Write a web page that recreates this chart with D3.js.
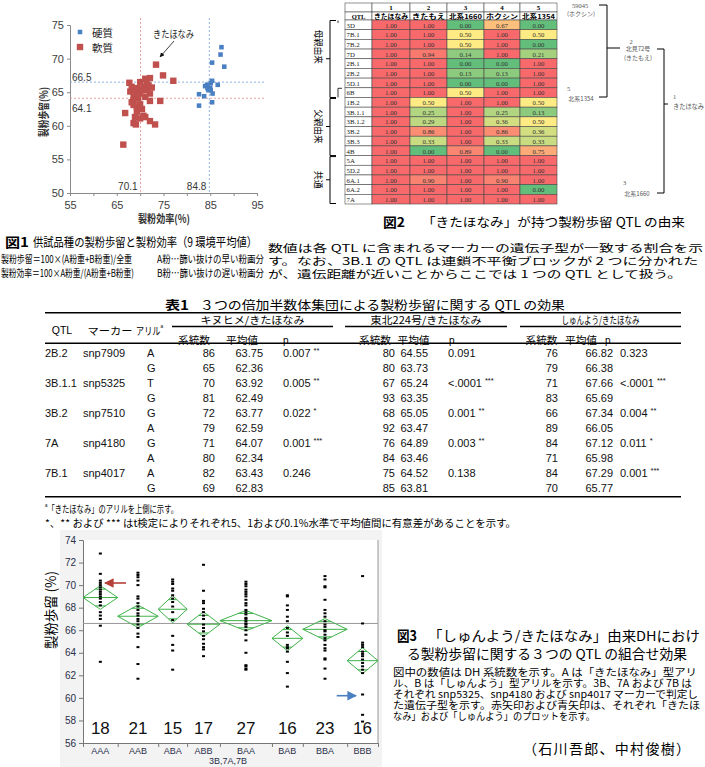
<!DOCTYPE html>
<html><head><meta charset="utf-8">
<script src="https://cdn.jsdelivr.net/npm/d3@7"></script>
<style>body{margin:0;background:#fff}svg{display:block}</style>
</head><body><svg id="c" width="705" height="767"></svg>
<script>
// ---------------- DATA ----------------
// Fig 1: [製粉効率, 製粉歩留]
const f1Hard = [[87.4,71.7],[87.2,70.6],[85.4,69.4],[88.0,68.8],[85.4,66.7],[86.6,66.1],[85.1,66.4],[84.3,66.1],[83.9,65.9],[84.4,65.6],[85.0,65.7],[85.1,65.3],[85.5,64.8],[82.6,64.7],[83.7,64.4],[82.6,63.0],[85.4,63.5],[84.6,65.3]];
const f1Soft = [[73.4,69.1],[74.9,67.5],[77.1,66.7],[72.1,67.1],[71.1,67.0],[70.0,66.5],[67.7,66.4],[68.2,65.8],[69.3,65.6],[70.7,65.8],[72.5,65.7],[71.4,65.3],[67.9,65.1],[70.0,64.8],[72.1,64.8],[68.6,64.3],[69.6,64.1],[71.1,64.3],[72.1,63.7],[74.3,63.7],[68.6,63.1],[69.3,62.8],[70.0,63.2],[66.8,61.9],[69.3,62.1],[68.9,61.3],[70.0,61.1],[71.1,61.3],[68.6,60.4],[69.1,60.2],[72.1,60.7],[73.2,60.2],[66.4,57.2],[68.6,63.8],[71.4,66.3],[71.8,66.0],[70.4,65.3],[68.9,64.9],[68.2,63.5],[70.4,62.5],[70.7,61.5]];
const f1YieldRefs = [66.5, 64.1];   // 硬質, 軟質
const f1EffRefs = [84.8, 70.1];     // 硬質, 軟質
const f1XTicks = [55,60,65,70,75,80,85,90,95];
const f1YTicks = [50,55,60,65,70,75];

// Fig 2
const f2Qtl = ['3D','7B.1','7B.2','7D','2B.1','2B.2','5D.1','6B','1B.2','3B.1.1','3B.1.2','3B.2','3B.3','4B','5A','5D.2','6A.1','6A.2','7A'];
const f2ColNo = ['1','2','3','4','5'];
const f2ColName = ['きたほなみ','きたもえ','北系1660','ホクシン','北系1354'];
const f2C1 = [1,1,1,1,1,1,1,1,1,1,1,1,1,1,1,1,1,1,1];
const f2C2 = [1,1,1,0.94,1,1,1,1,0.50,0.25,0.29,0.86,0.33,0,1,1,0.90,1,1];
const f2C3 = [0,0.50,0.50,0.14,0,0.13,0,0.50,1,1,1,1,1,0.89,1,1,1,1,1];
const f2C4 = [0.67,1,1,1,0,0.13,0,1,1,0.25,0.36,0.86,0.33,0,1,1,0.90,1,1];
const f2C5 = [0,0.50,0,0.21,1,1,1,1,0.50,0.13,0.50,0.36,0.33,0.75,1,1,1,0,1];

// Table 1
const t1Qtl = ['2B.2','3B.1.1','3B.2','7A','7B.1'];
const t1Marker = ['snp7909','snp5325','snp7510','snp4180','snp4017'];
const t1Allele = ['A','G','T','G','G','A','G','A','A','G'];
const t1Pops = ['キヌヒメ/きたほなみ','東北224号/きたほなみ','しゅんよう/きたほなみ'];
const t1N1 = [86,65,70,81,72,79,71,80,82,69];
const t1M1 = ['63.75','62.36','63.92','62.49','63.77','62.59','64.07','62.34','63.43','62.83'];
const t1P1 = ['0.007','0.005','0.022','0.001','0.246'];
const t1S1 = ['**','**','*','***',''];
const t1N2 = [80,80,67,93,68,92,76,84,75,85];
const t1M2 = ['64.55','63.73','65.24','63.35','65.05','63.47','64.89','63.46','64.52','63.81'];
const t1P2 = ['0.091','<.0001','0.001','0.003','0.138'];
const t1S2 = ['','***','**','**',''];
const t1N3 = [76,79,71,83,66,89,84,71,84,70];
const t1M3 = ['66.82','66.38','67.66','65.69','67.34','66.05','67.12','65.98','67.29','65.77'];
const t1P3 = ['0.323','<.0001','0.004','0.011','0.001'];
const t1S3 = ['','***','**','*','***'];

// Fig 3
const f3Cats = ['AAA','AAB','ABA','ABB','BAA','BAB','BBA','BBB'];
const f3Counts = [18,21,15,17,27,16,23,16];
const f3Means = [68.9,67.24,67.86,66.53,66.85,65.28,66.08,63.3];
const f3Half = [1.05,1.0,1.2,1.1,0.9,1.1,0.95,1.15];
const f3Grand = 66.6;
const f3YTicks = [56,58,60,62,64,66,68,70,72,74];
const f3Points = [
 [72.8,71.0,70.4,70.2,70.0,69.8,69.6,69.4,69.2,69.0,68.8,68.5,68.2,67.6,67.3,67.0,66.4,63.2],
 [71.1,70.9,70.7,70.4,70.0,69.0,68.8,68.4,68.1,67.8,67.5,67.3,67.0,66.8,66.5,66.2,65.7,65.4,64.5,63.0,61.7],
 [70.5,70.3,70.1,69.7,69.5,69.1,68.8,68.5,68.1,67.6,66.9,65.5,64.7,64.2,62.5],
 [71.8,69.5,68.6,68.4,67.9,67.6,67.3,67.0,66.5,66.2,65.9,65.5,65.2,64.8,64.5,64.3,63.7],
 [70.3,70.1,69.9,69.6,69.4,69.2,69.0,68.7,68.4,68.2,67.8,67.6,67.4,67.1,67.0,66.8,66.6,66.5,66.3,66.0,65.6,65.1,64.0,62.9,62.8,62.6,62.5],
 [69.1,69.0,68.2,67.8,67.2,66.8,66.2,65.8,65.5,64.7,64.5,64.4,64.1,63.2,62.2,61.0],
 [70.8,70.5,69.9,69.8,68.7,67.8,67.5,67.2,66.8,66.5,66.3,66.0,65.9,65.6,65.3,65.1,64.7,64.4,64.2,63.5,63.4,62.6,61.7],
 [70.8,66.6,64.9,64.7,64.5,64.1,63.9,63.7,63.4,63.1,62.8,62.5,62.2,60.3,58.5,57.9]
];

// ---------------- DRAW ----------------
const svg = d3.select('#c');
const JP = "'Noto Sans CJK JP','Noto Sans CJK SC',sans-serif";
const SANS = "'Liberation Sans',Arial,sans-serif";
const SERIF = "'Liberation Serif','DejaVu Serif',serif";

function txt(g,x,y,s,o={}){
  const t=g.append('text').attr('x',x).attr('y',y)
    .attr('font-family',o.f||JP).attr('font-size',o.s||11)
    .attr('fill',o.c||'#000').attr('text-anchor',o.a||'start')
    .attr('dominant-baseline','central');
  if(o.w) t.attr('font-weight',o.w);
  if(o.len) t.attr('textLength',o.len).attr('lengthAdjust',o.adj||'spacingAndGlyphs');
  if(o.rot) t.attr('transform',`rotate(${o.rot},${x},${y})`);
  t.text(s);
  return t;
}
function line(g,x1,y1,x2,y2,c,w,dash){
  const l=g.append('line').attr('x1',x1).attr('y1',y1).attr('x2',x2).attr('y2',y2)
   .attr('stroke',c||'#000').attr('stroke-width',w||1);
  if(dash) l.attr('stroke-dasharray',dash);
  return l;
}
const defs = svg.append('defs');
function marker(id,color){
  defs.append('marker').attr('id',id).attr('viewBox','0 0 10 10').attr('refX',9).attr('refY',5)
   .attr('markerWidth',6).attr('markerHeight',6).attr('orient','auto-start-reverse')
   .append('path').attr('d','M0,0 L10,5 L0,10 z').attr('fill',color);
}
marker('arK','#111'); marker('arR','#b5403a'); marker('arB','#4a7fc0');

// ===== Fig 1 =====
{
const g=svg.append('g');
const x=d3.scaleLinear().domain([55,95]).range([70,257]);
const y=d3.scaleLinear().domain([50,75]).range([193,25]);
const ax=g.append('g').attr('transform','translate(0,193)')
  .call(d3.axisBottom(x).tickValues(f1XTicks).tickSize(3).tickFormat(d=>((d-55)%10===0)?d:''));
const ay=g.append('g').attr('transform','translate(70,0)')
  .call(d3.axisLeft(y).tickValues(f1YTicks).tickSize(3));
[ax,ay].forEach(a=>{a.select('.domain').attr('stroke','#8a8a8a');a.selectAll('line').attr('stroke','#8a8a8a');
  a.selectAll('text').attr('font-family',SANS).attr('font-size',11).attr('fill','#404040');});
ax.selectAll('text').attr('dy','0.9em');
// reference lines
const refC=['#90b2e2','#e8a0a0'];
line(g,70,y(f1YieldRefs[0]),266,y(f1YieldRefs[0]),refC[0],1,'2,2');
line(g,70,y(f1YieldRefs[1]),266,y(f1YieldRefs[1]),refC[1],1,'2,2');
line(g,x(f1EffRefs[0]),18,x(f1EffRefs[0]),193,refC[0],1,'2,2');
line(g,x(f1EffRefs[1]),18,x(f1EffRefs[1]),193,refC[1],1,'2,2');
txt(g,72,y(f1YieldRefs[0])-5,String(f1YieldRefs[0]),{f:SANS,s:10,c:'#333'});
txt(g,72,y(f1YieldRefs[1])+10,String(f1YieldRefs[1]),{f:SANS,s:10,c:'#333'});
txt(g,x(f1EffRefs[1])-3,186,String(f1EffRefs[1]),{f:SANS,s:10,c:'#333',a:'end'});
txt(g,x(f1EffRefs[0])-3,186,String(f1EffRefs[0]),{f:SANS,s:10,c:'#333',a:'end'});
// points
g.selectAll('rect.soft').data(f1Soft).join('rect').attr('class','soft')
  .attr('x',d=>x(d[0])-3.2).attr('y',d=>y(d[1])-3.2).attr('width',6.4).attr('height',6.4).attr('fill','#c0504d');
const dia=d3.symbol().type(d3.symbolDiamond2).size(20);
g.selectAll('path.hard').data(f1Hard).join('path').attr('class','hard')
  .attr('d',dia).attr('transform',d=>`translate(${x(d[0])},${y(d[1])}) rotate(45) scale(1.15)`).attr('fill','#4a7fc1');
// legend
g.append('path').attr('d',dia).attr('transform','translate(80,32) rotate(45) scale(1.15)').attr('fill','#4a7fc1');
txt(g,92,32,'硬質',{s:10.5,c:'#222'});
g.append('rect').attr('x',76.8).attr('y',43.8).attr('width',6.4).attr('height',6.4).attr('fill','#c0504d');
txt(g,92,47,'軟質',{s:10.5,c:'#222'});
// annotation
txt(g,153,33,'きたほなみ',{s:10,c:'#222',len:41});
line(g,174,41,160,57,'#111',0.8).attr('marker-end','url(#arK)');
// axis titles
txt(g,43,112,'製粉歩留(%)',{s:11,w:'bold',a:'middle',rot:-90,c:'#333',len:50});
txt(g,164,218,'製粉効率(%)',{s:11,w:'bold',a:'middle',c:'#333',len:52});
}

// ===== Fig 2 =====
{
const g=svg.append('g');
const edges=[345,372,410,447,484,520,557];
const rows=d3.scaleBand().domain(f2Qtl).range([20,204]);
const color=d3.scaleLinear().domain([0,0.5,1]).range(['#63be7b','#ffeb84','#f8696b']);
const cols=[f2C1,f2C2,f2C3,f2C4,f2C5];
const bc='#4a4a4a';
// header
for(let c=0;c<6;c++){
  g.append('rect').attr('x',edges[c]).attr('y',3).attr('width',edges[c+1]-edges[c]).attr('height',9).attr('fill','#fff').attr('stroke',bc).attr('stroke-width',0.6);
  g.append('rect').attr('x',edges[c]).attr('y',12).attr('width',edges[c+1]-edges[c]).attr('height',8).attr('fill','#fff').attr('stroke',bc).attr('stroke-width',0.6);
}
f2ColNo.forEach((n,i)=>txt(g,(edges[i+1]+edges[i+2])/2,7.8,n,{f:SERIF,s:7,w:'bold',a:'middle'}));
txt(g,(edges[0]+edges[1])/2,16.2,'QTL',{f:SERIF,s:6.5,w:'bold',a:'middle'});
f2ColName.forEach((n,i)=>txt(g,(edges[i+1]+edges[i+2])/2,16.2,n,{s:6.5,w:'bold',a:'middle',len:edges[i+2]-edges[i+1]-4}));
// body
f2Qtl.forEach((q,r)=>{
  const yy=rows(q), h=rows.bandwidth();
  g.append('rect').attr('x',edges[0]).attr('y',yy).attr('width',edges[1]-edges[0]).attr('height',h).attr('fill','#fff').attr('stroke',bc).attr('stroke-width',0.6);
  txt(g,edges[0]+1.5,yy+h/2+0.3,q,{f:SERIF,s:6.8,c:'#222'});
  cols.forEach((col,c)=>{
    g.append('rect').attr('x',edges[c+1]).attr('y',yy).attr('width',edges[c+2]-edges[c+1]).attr('height',h)
      .attr('fill',color(col[r])).attr('stroke',bc).attr('stroke-width',0.6);
    txt(g,(edges[c+1]+edges[c+2])/2,yy+h/2+0.3,col[r].toFixed(2),{f:SERIF,s:6.8,a:'middle',c:'#333'});
  });
});
// left brackets
const by=q=>rows(q), be=q=>rows(q)+rows.bandwidth();
const br=(y1,y2,ym)=>{line(g,330,y1,330,y2);line(g,330,y1,336,y1);line(g,330,y2,336,y2);line(g,326,ym,330,ym);};
br(by('3D')+0.5,be('6B'),by('2B.1'));
line(g,338,by('3D')+0.5,338,by('3D')+3,'#000',0.8);
line(g,338,by('6B')+0.5,338,be('6B'),'#000',0.8);line(g,338,by('6B')+0.5,342,by('6B')+0.5,'#000',0.8);
br(be('6B')+1,be('4B'),(be('6B')+be('4B'))/2);
br(be('4B')+1,be('7A')-0.5,(be('4B')+be('7A'))/2);
txt(g,319,(by('3D')+be('6B'))/2-12,'母親由来',{s:9.5,a:'middle',rot:90,len:34});
txt(g,319,(be('6B')+be('4B'))/2,'父親由来',{s:9.5,a:'middle',rot:90,len:34});
txt(g,319,(be('4B')+be('7A'))/2,'共通',{s:9.5,a:'middle',rot:90,len:18});
// pedigree
const pc='#555';
txt(g,580,5,'59045',{f:SERIF,s:6.5,c:pc,a:'middle'});
txt(g,581,13,'(ホクシン)',{s:6,c:pc,a:'middle'});
line(g,599,5,607,5);line(g,607,5,607,97);line(g,599,97,607,97);line(g,607,48,620,48);
txt(g,631,41,'2',{f:SERIF,s:6.5,c:pc,a:'middle'});
txt(g,638,48,'北見72号',{s:6,c:pc,a:'middle'});
txt(g,638,57,'(きたもえ)',{s:6,c:pc,a:'middle'});
line(g,657,49,664,49);line(g,664,49,664,193);line(g,657,193,664,193);line(g,664,104,668,104);
txt(g,673,96,'1',{f:SERIF,s:6.5,c:pc});
txt(g,673,106,'きたほなみ',{s:6.5,c:pc,len:31});
txt(g,567,88,'5',{f:SERIF,s:6.5,c:pc});
txt(g,581,98,'北系1354',{s:6,c:pc,a:'middle'});
txt(g,623,182,'3',{f:SERIF,s:6.5,c:pc});
txt(g,637,193,'北系1660',{s:6,c:pc,a:'middle'});
}

// ===== Captions Fig 1, Fig 2 =====
{
const g=svg.append('g');
txt(g,5,241,'図1',{s:13,w:'bold',len:24});
txt(g,33,241,'供試品種の製粉歩留と製粉効率（9 環境平均値）',{s:12.5,len:224});
txt(g,1,258,'製粉歩留＝100×(A粉重+B粉重)/全重',{s:10.5,len:131});
txt(g,157,258,'A粉…篩い抜けの早い粉画分',{s:10.5,len:107});
txt(g,1,272,'製粉効率＝100×A粉重/(A粉重+B粉重)',{s:10.5,len:133});
txt(g,157,272,'B粉…篩い抜けの遅い粉画分',{s:10.5,len:107});

txt(g,383,221,'図2',{s:13,w:'bold',len:22});
txt(g,422,221,'「きたほなみ」が持つ製粉歩留 QTL の由来',{s:12.5,len:263});
txt(g,268,247,'数値は各 QTL に含まれるマーカーの遺伝子型が一致する割合を示',{s:10,len:435});
txt(g,268,260,'す。なお、3B.1 の QTL は連鎖不平衡ブロックが 2 つに分かれた',{s:10,len:430});
txt(g,268,273,'が、遺伝距離が近いことからここでは 1 つの QTL として扱う。',{s:10,len:414});
}

// ===== Table 1 =====
{
const g=svg.append('g');
txt(g,165,304,'表1',{s:12.5,w:'bold',len:24});
txt(g,200,304,'３つの倍加半数体集団による製粉歩留に関する QTL の効果',{s:12.5,len:365});
line(g,45,312.7,681,312.7,'#000',1.4);
line(g,45,343.3,681,343.3,'#000',1.4);
line(g,45,496.7,681,496.7,'#000',1.4);
const grp=[[172,333],[345,507],[520,681]];
const gl=[104,111,78];
grp.forEach((e,i)=>{line(g,e[0],326.5,e[1],326.5,'#000',1.4);
  txt(g,(e[0]+e[1])/2,319.5,t1Pops[i],{s:10,a:'middle',len:gl[i]});});
txt(g,62,330,'QTL',{f:SANS,s:10.5,a:'middle'});
txt(g,110,330,'マーカー',{s:10.5,a:'middle',len:45});
const al=txt(g,136,330,'アリル',{s:10.5,len:27});
al.append('tspan').attr('font-size',6).attr('dy',-4).attr('font-family',SANS).text('a');
const subX=[[194,242,283],[375,413.5,449],[541.5,581,605]];
subX.forEach(s=>{
  txt(g,s[0],339.5,'系統数',{s:10.5,a:'middle',len:32});
  txt(g,s[1],339.5,'平均値',{s:10.5,a:'middle',len:32});
  txt(g,s[2],340,'p',{f:SANS,s:10});
});
const cx=[[215,263,283],[395,428,448],[558,613,620]];
const Ns=[t1N1,t1N2,t1N3], Ms=[t1M1,t1M2,t1M3], Ps=[t1P1,t1P2,t1P3], Ss=[t1S1,t1S2,t1S3];
const ry=i=>353+i*15;
const o={f:SANS,s:11,c:'#111'};
t1Allele.forEach((a,i)=>{
  if(i%2===0){txt(g,45,ry(i),t1Qtl[i/2],o);txt(g,83,ry(i),t1Marker[i/2],o);}
  txt(g,147,ry(i),a,o);
  for(let k=0;k<3;k++){
    txt(g,cx[k][0],ry(i),String(Ns[k][i]),{...o,a:'end'});
    txt(g,cx[k][1],ry(i),Ms[k][i],{...o,a:'end'});
    if(i%2===0){
      const t=txt(g,cx[k][2],ry(i),Ps[k][i/2],o);
      if(Ss[k][i/2]) t.append('tspan').attr('font-size',7.5).attr('dx',3).attr('dy',-3).text(Ss[k][i/2]);
    }
  }
});
// footnotes
const f1=txt(g,45,508,'',{s:10,len:133});
f1.append('tspan').attr('font-size',6).attr('dy',-3).attr('font-family',SANS).text('a');
f1.append('tspan').attr('dy',3).text('「きたほなみ」のアリルを上側に示す。');
txt(g,45,522,'*、** および *** はt検定によりそれぞれ5、1および0.1%水準で平均値間に有意差があることを示す。',{s:10,len:471});
}

// ===== Fig 3 =====
{
const g=svg.append('g');
g.append('rect').attr('x',60).attr('y',530).attr('width',322).attr('height',237).attr('fill','#f3f3f3');
g.append('rect').attr('x',83).attr('y',540).attr('width',295).attr('height',203).attr('fill','#fff');
const total=d3.sum(f3Counts);
const cum=[0]; f3Counts.forEach(c=>cum.push(cum[cum.length-1]+c));
const x=d3.scaleLinear().domain([0,total]).range([83,378]);
const y=d3.scaleLinear().domain([56,74]).range([743,540]);
const ay=g.append('g').attr('transform','translate(83,0)').call(d3.axisLeft(y).tickValues(f3YTicks).tickSize(4));
ay.select('.domain').attr('stroke','#777');ay.selectAll('line').attr('stroke','#777');
ay.selectAll('text').attr('font-family',SANS).attr('font-size',10).attr('fill','#2a2f4a');
const ax=g.append('g').attr('transform','translate(0,743)').call(d3.axisBottom(x).tickValues(cum).tickSize(4).tickFormat(''));
ax.select('.domain').attr('stroke','#777');ax.selectAll('line').attr('stroke','#777');
line(g,378,540,378,743,'#999',1);
line(g,83,y(f3Grand),378,y(f3Grand),'#999',1);
f3Cats.forEach((c,i)=>{
  const l=x(cum[i]), r=x(cum[i+1]), m=(l+r)/2, W=r-l, mu=f3Means[i], h=f3Half[i];
  g.append('path').attr('d',`M${l},${y(mu)}L${m},${y(mu+h)}L${r},${y(mu)}L${m},${y(mu-h)}Z`)
    .attr('fill','none').attr('stroke','#3fb24a').attr('stroke-width',1);
  line(g,l,y(mu),r,y(mu),'#3fb24a',1);
  const d=h/Math.SQRT2, hw=W/2*(1-d/h);
  line(g,m-hw,y(mu+d),m+hw,y(mu+d),'#3fb24a',1);
  line(g,m-hw,y(mu-d),m+hw,y(mu-d),'#3fb24a',1);
  g.selectAll(null).data(f3Points[i]).join('rect').attr('x',m-1.5).attr('y',v=>y(v)-1).attr('width',3).attr('height',2).attr('fill','#000');
  txt(g,m,728,String(f3Counts[i]),{f:SANS,s:17,a:'middle',c:'#111'});
  txt(g,m,751,c,{f:SANS,s:9,a:'middle',c:'#2a2f4a'});
});
txt(g,228,760.5,'3B,7A,7B',{f:SANS,s:9,a:'middle',c:'#2a2f4a'});
txt(g,50,610,'製粉歩留 (%)',{s:14,a:'middle',rot:-90,len:78});
line(g,126,583,105,583,'#b5403a',1.6).attr('marker-end','url(#arR)');
line(g,336.7,695.7,356,695.7,'#4a7fc0',1.6).attr('marker-end','url(#arB)');
}

// ===== Caption Fig 3 =====
{
const g=svg.append('g');
txt(g,397,635,'図3',{s:14,w:'bold',len:20});
txt(g,428,635,'「しゅんよう/きたほなみ」由来DHにおけ',{s:13.5,len:272});
txt(g,407,653,'る製粉歩留に関する３つの QTL の組合せ効果',{s:13.5,len:280});
const L=['図中の数値は DH 系統数を示す。A は「きたほなみ」型アリ',
 'ル、B は「しゅんよう」型アリルを示す。3B、7A および 7B は',
 'それぞれ snp5325、snp4180 および snp4017 マーカーで判定し',
 'た遺伝子型を示す。赤矢印および青矢印は、それぞれ「きたほ',
 'なみ」および「しゅんよう」のプロットを示す。'];
const LW=[304,299,305,307,202];
L.forEach((s,i)=>txt(g,393,672+i*11,s,{s:9.8,len:LW[i]}));
txt(g,523,748,'（石川吾郎、中村俊樹）',{s:14,len:167,adj:'spacing'});
}
</script></body></html>
